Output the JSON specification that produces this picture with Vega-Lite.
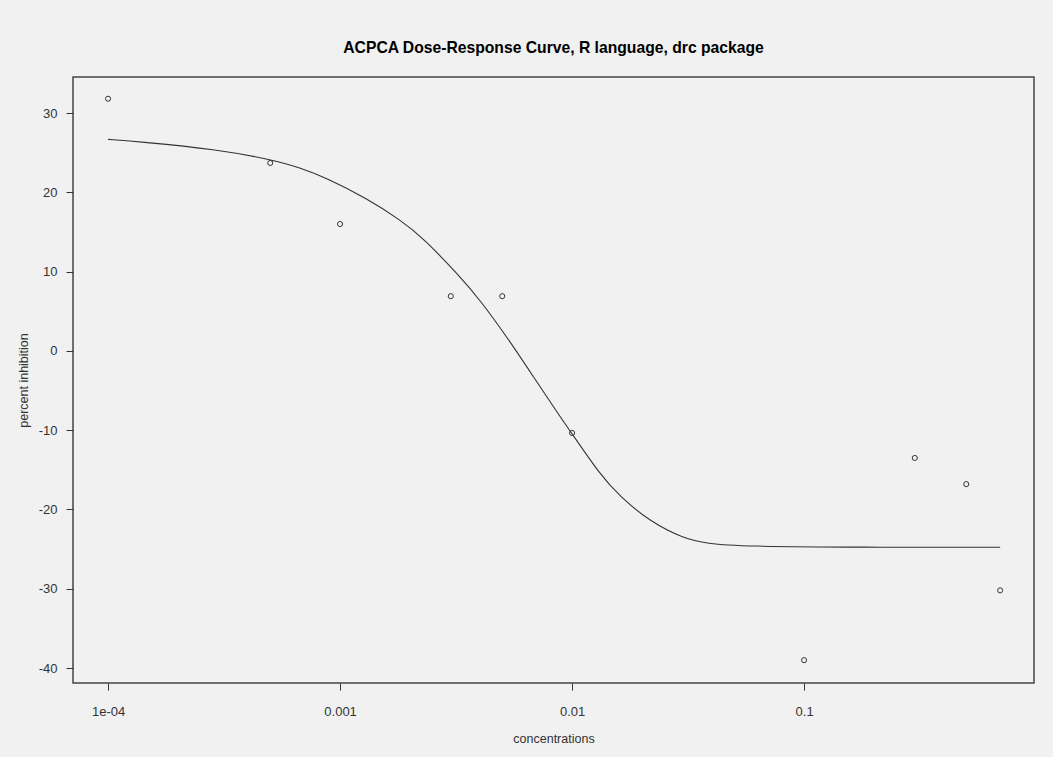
{
  "$schema": "https://vega.github.io/schema/vega-lite/v6.json",
  "width": 961,
  "height": 606,
  "autosize": {"type": "none"},
  "padding": {"left": 73, "top": 77, "right": 19, "bottom": 74},
  "background": "#f1f1f1",
  "title": {
    "text": "ACPCA Dose-Response Curve, R language, drc package",
    "font": "Liberation Sans",
    "fontSize": 15.7,
    "fontWeight": "bold",
    "color": "#000000",
    "anchor": "middle",
    "baseline": "alphabetic",
    "offset": 8
  },
  "config": {
    "view": {"stroke": "#444444", "strokeWidth": 1.5},
    "axis": {
      "grid": false,
      "domain": false,
      "tickColor": "#333333",
      "tickSize": 7,
      "labelFont": "Liberation Sans",
      "labelFontSize": 13,
      "labelColor": "#333333",
      "titleFont": "Liberation Sans",
      "titleFontSize": 12.5,
      "titleFontWeight": "normal",
      "titleColor": "#333333"
    }
  },
  "datasets": {
    "obs": [
      {"conc": 0.0001, "inhibition": 31.8},
      {"conc": 0.0005, "inhibition": 23.7},
      {"conc": 0.001, "inhibition": 16.0},
      {"conc": 0.003, "inhibition": 6.9},
      {"conc": 0.005, "inhibition": 6.9},
      {"conc": 0.01, "inhibition": -10.35},
      {"conc": 0.1, "inhibition": -39.0},
      {"conc": 0.3, "inhibition": -13.5},
      {"conc": 0.5, "inhibition": -16.8},
      {"conc": 0.7, "inhibition": -30.2}
    ],
    "fit": [
      {"conc": 0.0001, "inhibition": 26.68},
      {"conc": 0.000137, "inhibition": 26.38},
      {"conc": 0.000294, "inhibition": 25.42},
      {"conc": 0.000499, "inhibition": 24.16},
      {"conc": 0.000673, "inhibition": 23.1},
      {"conc": 0.000877, "inhibition": 21.77},
      {"conc": 0.0013, "inhibition": 19.24},
      {"conc": 0.00182, "inhibition": 16.51},
      {"conc": 0.00229, "inhibition": 14.2},
      {"conc": 0.00329, "inhibition": 9.36},
      {"conc": 0.00401, "inhibition": 6.42},
      {"conc": 0.00523, "inhibition": 1.79},
      {"conc": 0.00681, "inhibition": -3.25},
      {"conc": 0.00887, "inhibition": -8.3},
      {"conc": 0.00997, "inhibition": -10.39},
      {"conc": 0.0132, "inhibition": -15.6},
      {"conc": 0.0161, "inhibition": -18.39},
      {"conc": 0.0217, "inhibition": -21.54},
      {"conc": 0.0302, "inhibition": -23.65},
      {"conc": 0.0381, "inhibition": -24.3},
      {"conc": 0.0547, "inhibition": -24.65},
      {"conc": 0.174, "inhibition": -24.77},
      {"conc": 0.7, "inhibition": -24.77}
    ]
  },
  "encoding": {
    "x": {
      "field": "conc",
      "type": "quantitative",
      "scale": {"type": "log", "domain": [0.0000706, 0.9795], "nice": false, "zero": false},
      "axis": {
        "title": "concentrations",
        "values": [0.0001, 0.001, 0.01, 0.1],
        "labelExpr": "datum.value < 0.0005 ? '1e-04' : datum.value < 0.005 ? '0.001' : datum.value < 0.05 ? '0.01' : '0.1'",
        "labelPadding": 15,
        "titlePadding": 14
      }
    },
    "y": {
      "field": "inhibition",
      "type": "quantitative",
      "scale": {"domain": [-41.88, 34.54], "nice": false, "zero": false},
      "axis": {
        "title": "percent inhibition",
        "values": [-40, -30, -20, -10, 0, 10, 20, 30],
        "labelExpr": "datum.value < 0 ? '-' + abs(datum.value) : '' + datum.value",
        "labelPadding": 9,
        "titlePadding": 8
      }
    }
  },
  "layer": [
    {
      "data": {"name": "fit"},
      "mark": {"type": "line", "stroke": "#333333", "strokeWidth": 1.1, "interpolate": "basis"}
    },
    {
      "data": {"name": "obs"},
      "mark": {"type": "point", "shape": "circle", "filled": false, "stroke": "#333333", "strokeWidth": 1, "size": 26, "opacity": 1}
    }
  ]
}
